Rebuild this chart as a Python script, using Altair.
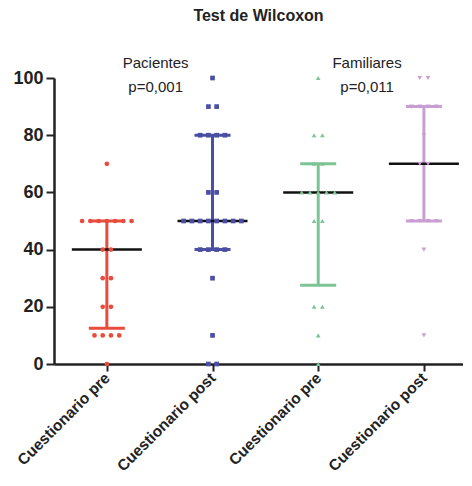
import altair as alt
import pandas as pd

# ---- data ----
group_labels = ["Cuestionario pre", "Cuestionario post", "Cuestionario pre", "Cuestionario post"]
group_index = [1, 2, 3, 4]

pacientes_pre = [70, 50, 50, 50, 50, 50, 50, 50, 40, 40, 30, 30, 20, 20, 10, 10, 10, 10, 0]
pacientes_post = [100, 90, 90, 80, 80, 80, 80, 60, 60, 50, 50, 50, 50, 50, 50, 50, 50,
                  40, 40, 40, 40, 30, 10, 0, 0]
familiares_pre = [100, 80, 80, 70, 70, 60, 60, 60, 60, 60, 50, 50, 20, 20, 10, 0]
familiares_post = [100, 100, 90, 90, 90, 90, 80, 70, 70, 50, 50, 50, 50, 40, 10]

medians = [40, 50, 60, 70]
q1 = [12.5, 40, 27.5, 50]
q3 = [50, 80, 70, 90]

colors = ["#E94B3C", "#4B4FA3", "#7DC495", "#C99ED3"]
shapes = ["circle", "square", "triangle-up", "triangle-down"]

annot_x = [1.5, 3.5]
annot_group = ["Pacientes", "Familiares"]
annot_p = ["p=0,001", "p=0,011"]

# ---- tables ----
series = [pacientes_pre, pacientes_post, familiares_pre, familiares_post]
rows = []
for g, vals in zip(group_index, series):
    for v in vals:
        rows.append({"g": g, "value": v})
points_df = pd.DataFrame(rows)

summary_df = pd.DataFrame({"g": group_index, "median": medians, "q1": q1, "q3": q3})
annot_df = pd.DataFrame({"x": annot_x, "name": annot_group, "p": annot_p})

label_arr = "[''," + ",".join("'" + s + "'" for s in group_labels) + "]"

x_scale = alt.Scale(domain=[0.5, 4.37], nice=False, zero=False)
y_scale = alt.Scale(domain=[0, 100], nice=False)

color_scale = alt.Scale(domain=group_index, range=colors)
shape_scale = alt.Scale(domain=group_index, range=shapes)

x_axis = alt.Axis(values=group_index, labelExpr=label_arr + "[datum.value]",
                  labelAngle=315, labelAlign="right", labelBaseline="middle",
                  labelFont="Liberation Sans", labelFontWeight="bold", labelFontSize=15.5,
                  labelColor="#222222", labelPadding=4, tickSize=7, tickWidth=2,
                  tickColor="#222222", domainColor="#222222", domainWidth=2.5,
                  grid=False, title=None)
y_axis = alt.Axis(values=[0, 20, 40, 60, 80, 100], labelFont="Liberation Sans",
                  labelFontWeight="bold", labelFontSize=18, labelColor="#222222",
                  labelPadding=3, tickSize=8, tickWidth=2, tickColor="#222222",
                  domainColor="#222222", domainWidth=2.5, grid=False, title=None)

base_sum = alt.Chart(summary_df)

errbar = base_sum.mark_rule(strokeWidth=3).encode(
    x=alt.X("g:Q", scale=x_scale, axis=x_axis),
    y=alt.Y("q1:Q", scale=y_scale, axis=y_axis),
    y2="q3:Q",
    color=alt.Color("g:N", scale=color_scale, legend=None),
)
cap_lo = base_sum.mark_tick(orient="horizontal", size=36, thickness=3, opacity=1).encode(
    x=alt.X("g:Q", scale=x_scale), y=alt.Y("q1:Q", scale=y_scale),
    color=alt.Color("g:N", scale=color_scale, legend=None),
)
cap_hi = base_sum.mark_tick(orient="horizontal", size=36, thickness=3, opacity=1).encode(
    x=alt.X("g:Q", scale=x_scale), y=alt.Y("q3:Q", scale=y_scale),
    color=alt.Color("g:N", scale=color_scale, legend=None),
)
median = base_sum.mark_tick(orient="horizontal", size=70, thickness=2.5, color="#111111",
                            opacity=1).encode(
    x=alt.X("g:Q", scale=x_scale), y=alt.Y("median:Q", scale=y_scale),
)

pts = alt.Chart(points_df).transform_window(
    rank="row_number()", groupby=["g", "value"]
).transform_joinaggregate(
    cnt="count()", groupby=["g", "value"]
).transform_calculate(
    xpos="datum.g + (datum.rank - (datum.cnt + 1) / 2) * 0.078"
).mark_point(filled=True, size=22, opacity=1).encode(
    x=alt.X("xpos:Q", scale=x_scale),
    y=alt.Y("value:Q", scale=y_scale),
    color=alt.Color("g:N", scale=color_scale, legend=None),
    shape=alt.Shape("g:N", scale=shape_scale, legend=None),
)

annot_name = alt.Chart(annot_df).mark_text(
    font="Liberation Sans", fontSize=15, color="#222222", baseline="middle", dx=-4
).encode(x=alt.X("x:Q", scale=x_scale), y=alt.value(-15), text="name:N")
annot_pv = alt.Chart(annot_df).mark_text(
    font="Liberation Sans", fontSize=15, color="#222222", baseline="middle", dx=-4
).encode(x=alt.X("x:Q", scale=x_scale), y=alt.value(9), text="p:N")

chart = alt.layer(errbar, cap_lo, cap_hi, median, pts, annot_name, annot_pv).properties(
    width=409, height=286,
    title=alt.TitleParams("Test de Wilcoxon", font="Liberation Sans", fontSize=16,
                          fontWeight="bold", color="#222222", anchor="middle", offset=32),
    padding={"left": 4, "top": 0, "right": 0, "bottom": 0},
).configure_view(stroke=None)

chart.save("out.html", embed_options={"renderer": "svg", "actions": False})
